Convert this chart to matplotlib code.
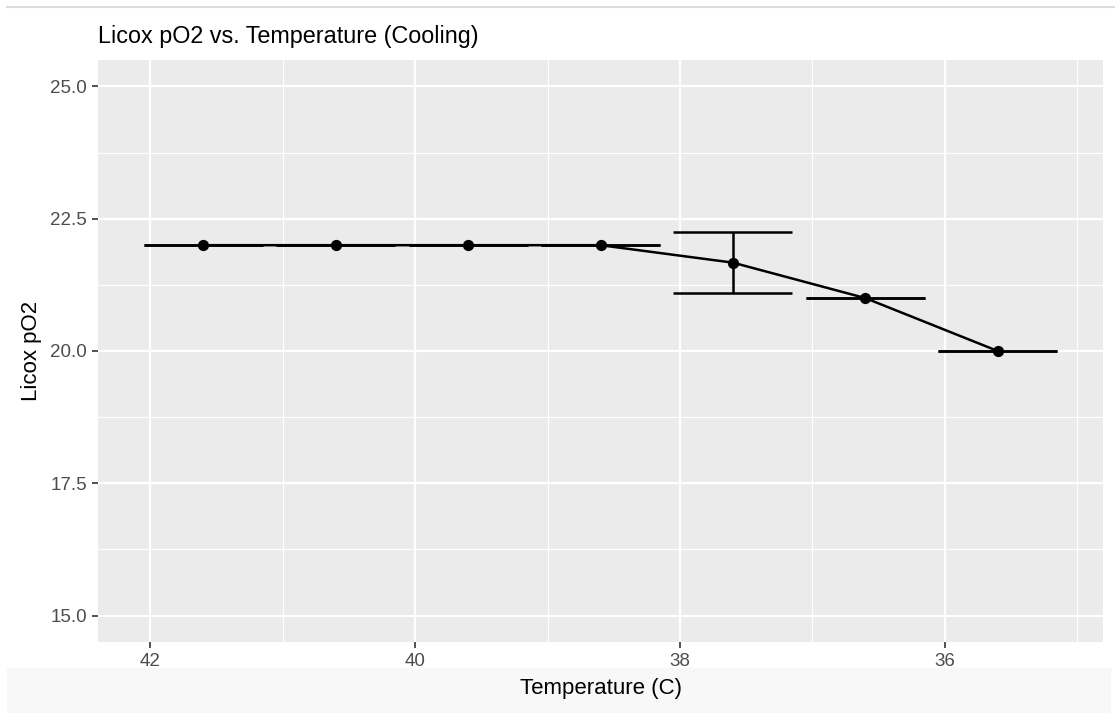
import matplotlib.pyplot as plt
import matplotlib.patches as patches

# Cooling run: mean Licox reading per temperature step
temperature = [41.6, 40.6, 39.6, 38.6, 37.6, 36.6, 35.6]
po2_mean = [22.0, 22.0, 22.0, 22.0, 21.67, 21.0, 20.0]
po2_err = [0.0, 0.0, 0.0, 0.0, 0.577, 0.0, 0.0]

x_ticks = [42, 40, 38, 36]
x_minor = [41, 39, 37, 35]
y_ticks = [15.0, 17.5, 20.0, 22.5, 25.0]
y_minor = [16.25, 18.75, 21.25, 23.75]

plt.rcParams['font.family'] = ['Liberation Sans', 'DejaVu Sans']

fig = plt.figure(figsize=(11.15, 7.13), dpi=100)
fig.patch.set_facecolor('white')

# screenshot frame bits: thin rule on top, pale band at the bottom
fig.add_artist(plt.Line2D([7 / 1115, 1], [1 - 7 / 713, 1 - 7 / 713],
                          color='#dcdcdc', lw=1.5, transform=fig.transFigure))
fig.add_artist(patches.Rectangle((7 / 1115, 0), 1103 / 1115, 45 / 713,
                                 color='#f8f8f8', transform=fig.transFigure, zorder=0))

ax = fig.add_axes([98 / 1115, 1 - 642 / 713, 1005 / 1115, 582 / 713])
ax.set_facecolor('#ebebeb')

lw = 1.8
ax.errorbar(temperature, po2_mean, yerr=po2_err, fmt='none', ecolor='black',
            elinewidth=lw, capsize=0, zorder=3)
# ggplot-style caps, width 0.9 in data units
for t, m, e in zip(temperature, po2_mean, po2_err):
    ax.hlines([m - e, m + e], t - 0.45, t + 0.45, color='black', lw=lw, zorder=3)
ax.plot(temperature, po2_mean, color='black', lw=lw, zorder=4)
ax.scatter(temperature, po2_mean, s=50, color='black', zorder=5)

ax.set_xlim(42.395, 34.805)
ax.set_ylim(14.5, 25.5)
ax.set_xticks(x_ticks)
ax.set_xticks(x_minor, minor=True)
ax.set_yticks(y_ticks)
ax.set_yticks(y_minor, minor=True)
ax.set_yticklabels([f'{v:.1f}' for v in y_ticks])

ax.grid(which='major', color='white', lw=1.6)
ax.grid(which='minor', color='white', lw=0.8)
ax.set_axisbelow(True)
for s in ax.spines.values():
    s.set_visible(False)
ax.tick_params(which='major', length=4, width=1.2, color='#333333',
               labelsize=13.5, labelcolor='#4d4d4d', pad=4)
ax.tick_params(which='minor', length=0)

ax.set_xlabel('Temperature (C)', fontsize=16, color='black', labelpad=6)
ax.set_ylabel('Licox pO2', fontsize=16, color='black', labelpad=6)
fig.text(98 / 1115, 1 - 37 / 713, 'Licox pO2 vs. Temperature (Cooling)',
         fontsize=16.8, va='center', ha='left')

fig.savefig('out.png', dpi=100)
